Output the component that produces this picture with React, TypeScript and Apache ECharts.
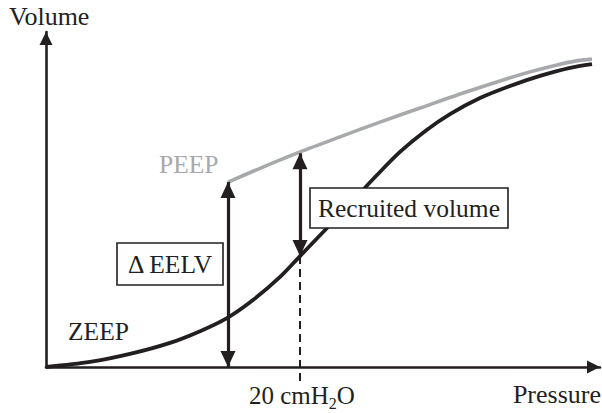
import React, { useEffect, useRef } from "react";
import * as echarts from "echarts";

// ZEEP pressure-volume curve (pressure in cmH2O, volume in arbitrary units 0..100)
const zeepPressure = [0, 3.46, 6.61, 9.76, 12.13, 14.25, 16.3, 18.43, 20.0, 22.13, 23.94, 25.91, 27.87, 29.84, 31.81, 34.17, 36.54, 38.9, 41.26, 42.99];
const zeepVolume = [0, 1.5, 3.9, 7.2, 10.7, 14.6, 20.0, 26.9, 33.1, 41.5, 48.7, 56.7, 64.2, 70.4, 75.5, 80.3, 83.9, 86.9, 89.3, 90.4];
// PEEP curve
const peepPressure = [14.33, 16.85, 20.0, 23.15, 26.3, 29.45, 32.6, 35.75, 38.11, 40.08, 41.65, 42.99];
const peepVolume = [55.2, 59.3, 64.2, 68.7, 73.1, 77.3, 81.5, 85.4, 88.1, 90.0, 91.3, 91.9];
// annotation values
const eelvPressure = 14.33;
const eelvTop = 55.2;
const markPressure = 20;
const peepAtMark = 63.8;
const zeepAtMark = 33.1;
const dashBottom = -5.2;
const xMax = 43.62;
const yMax = 100;

const labels = {
  yName: "Volume",
  xName: "Pressure",
  zeep: "ZEEP",
  peep: "PEEP",
  eelv: "\u0394 EELV",
  recruited: "Recruited volume",
  tickMain: "20 cmH",
  tickSub: "2",
  tickEnd: "O",
};

const FONT = '"Liberation Serif", "Times New Roman", serif';
const BLACK = "#231f20";
const GREY = "#a7a9ac";
const arrowHead = "path://M0,-16 M0,0 L7.5,16 L-7.5,16 Z";
const axisHead = "path://M0,-13 M0,0 L6.5,13 L-6.5,13 Z";

function measure(text: string, size: number) {
  const c = document.createElement("canvas").getContext("2d");
  if (!c) return text.length * size * 0.5;
  c.font = `${size}px "Liberation Serif"`;
  return c.measureText(text).width;
}

export default function App() {
  const ref = useRef<HTMLDivElement>(null);
  useEffect(() => {
    if (!ref.current) return;
    const chart = echarts.init(ref.current, undefined, { renderer: "svg" });
    const zeepData = zeepPressure.map((p, i) => [p, zeepVolume[i]]);
    const peepData = peepPressure.map((p, i) => [p, peepVolume[i]]);
    const recW = measure(labels.recruited, 25.5) + 16;
    const w1 = measure(labels.tickMain, 25);
    const w2 = measure(labels.tickSub, 16);
    const txt = (text: string, x: number, y: number, size: number, fill: string, align = "left") => ({
      type: "text",
      x,
      y,
      z: 100,
      silent: true,
      style: {
        text,
        font: `${size}px ${FONT}`,
        fill,
        align,
        textAlign: align,
        verticalAlign: "middle",
        textVerticalAlign: "middle",
      },
    });
    chart.setOption({
      animation: false,
      backgroundColor: "#ffffff",
      grid: { left: 46, right: 2, top: 32, bottom: 46, outerBoundsMode: "none" },
      xAxis: {
        type: "value",
        min: 0,
        max: xMax,
        axisLine: {
          show: true,
          symbol: ["none", axisHead],
          symbolSize: [13, 26],
          lineStyle: { color: BLACK, width: 2.6 },
        },
        axisTick: { show: false },
        axisLabel: { show: false },
        splitLine: { show: false },
      },
      yAxis: {
        type: "value",
        min: 0,
        max: yMax,
        axisLine: {
          show: true,
          symbol: ["none", axisHead],
          symbolSize: [13, 26],
          lineStyle: { color: BLACK, width: 2.6 },
        },
        axisTick: { show: false },
        axisLabel: { show: false },
        splitLine: { show: false },
      },
      series: [
        {
          type: "line",
          data: [
            [markPressure, zeepAtMark],
            [markPressure, dashBottom],
          ],
          clip: false,
          showSymbol: false,
          silent: true,
          lineStyle: { color: BLACK, width: 2, type: [8, 5] },
        },
        {
          type: "line",
          data: peepData,
          smooth: 0.3,
          showSymbol: false,
          silent: true,
          lineStyle: { color: GREY, width: 3.6, cap: "butt" },
        },
        {
          type: "line",
          data: zeepData,
          smooth: 0.3,
          showSymbol: false,
          silent: true,
          lineStyle: { color: BLACK, width: 3.8 },
          markLine: {
            silent: true,
            symbol: [arrowHead, arrowHead],
            symbolSize: [15, 32],
            label: { show: false },
            lineStyle: { color: BLACK, width: 3.2, type: "solid" },
            emphasis: { disabled: true },
            data: [
              [{ coord: [eelvPressure, eelvTop] }, { coord: [eelvPressure, 0] }],
              [{ coord: [markPressure, peepAtMark] }, { coord: [markPressure, zeepAtMark] }],
            ],
          },
        },
      ],
      graphic: [
        txt(labels.yName, 9, 16.5, 26, BLACK),
        txt(labels.xName, 601, 394.5, 26, BLACK, "right"),
        txt(labels.zeep, 68, 331.5, 25.5, BLACK),
        txt(labels.peep, 159, 164.5, 25.5, GREY),
        {
          type: "rect",
          z: 99,
          silent: true,
          shape: { x: 117, y: 243, width: 106, height: 42 },
          style: { fill: "#ffffff", stroke: BLACK, lineWidth: 1.6 },
        },
        txt(labels.eelv, 170, 264.5, 25.5, BLACK, "center"),
        {
          type: "rect",
          z: 99,
          silent: true,
          shape: { x: 310, y: 188, width: recW, height: 40 },
          style: { fill: "#ffffff", stroke: BLACK, lineWidth: 1.6 },
        },
        txt(labels.recruited, 318, 208, 25.5, BLACK),
        txt(labels.tickMain, 249, 395, 25, BLACK),
        txt(labels.tickSub, 249 + w1, 403, 16, BLACK),
        txt(labels.tickEnd, 249 + w1 + w2, 395, 25, BLACK),
      ],
    });
    return () => chart.dispose();
  }, []);
  return <div ref={ref} style={{ width: 602, height: 413, position: "absolute", left: 0, top: 0 }} />;
}
